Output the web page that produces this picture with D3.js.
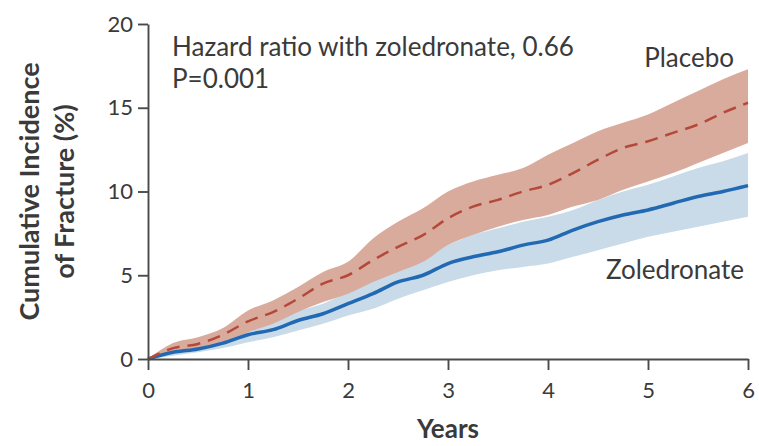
<!DOCTYPE html>
<html lang="en">
  <head>
    <meta charset="utf-8">
    <script src="https://cdn.jsdelivr.net/npm/d3@7"></script>
    <style>
      body { margin: 0; background: #fff; }
      svg text { font-family: Lato, "Open Sans", sans-serif; fill: #3a3a3a; }
    </style>
  </head>
  <body>
  <script>

    // values, every quarter year
    var years = [0, 0.25, 0.5, 0.75, 1, 1.25, 1.5, 1.75, 2, 2.25, 2.5, 2.75, 3,
                 3.25, 3.5, 3.75, 4, 4.25, 4.5, 4.75, 5, 5.25, 5.5, 5.75, 6];

    var placebo      = [0, 0.65, 0.9, 1.45, 2.25, 2.8, 3.6, 4.5, 5.0, 5.9, 6.7, 7.4, 8.4,
                        9.1, 9.5, 10.0, 10.4, 11.1, 11.9, 12.6, 13.0, 13.5, 14.0, 14.7, 15.3];
    var placeboHigh  = [0, 0.95, 1.3, 1.85, 2.9, 3.5, 4.3, 5.2, 5.8, 7.2, 8.2, 9.0, 10.0,
                        10.6, 11.0, 11.4, 12.2, 12.9, 13.6, 14.1, 14.6, 15.3, 16.0, 16.7, 17.3];
    var placeboLow   = [0, 0.35, 0.55, 1.0, 1.6, 2.1, 2.8, 3.4, 3.9, 4.6, 5.2, 5.8, 6.8,
                        7.4, 7.9, 8.3, 8.6, 9.1, 9.5, 10.1, 10.6, 11.1, 11.7, 12.3, 12.9];

    var zoledronate  = [0, 0.4, 0.6, 0.95, 1.45, 1.75, 2.3, 2.7, 3.3, 3.9, 4.6, 5.0, 5.7,
                        6.1, 6.4, 6.8, 7.1, 7.7, 8.2, 8.6, 8.9, 9.3, 9.7, 10.0, 10.35];
    var zoledHigh    = [0, 0.55, 0.8, 1.2, 1.8, 2.2, 2.85, 3.3, 4.0, 4.7, 5.5, 6.1, 6.8,
                        7.4, 7.8, 8.2, 8.5, 8.9, 9.5, 10.0, 10.4, 10.9, 11.4, 11.8, 12.3];
    var zoledLow     = [0, 0.2, 0.4, 0.65, 1.0, 1.3, 1.7, 2.1, 2.6, 3.0, 3.6, 4.1, 4.6,
                        5.0, 5.3, 5.5, 5.7, 6.1, 6.5, 6.9, 7.3, 7.6, 7.9, 8.2, 8.5];

    var xTicks = [0, 1, 2, 3, 4, 5, 6];
    var yTicks = [0, 5, 10, 15, 20];

    var width = 759, height = 446;
    var margin = {top: 24, right: 11, bottom: 87, left: 148};

    var svg = d3.select("body").append("svg")
      .attr("width", width)
      .attr("height", height);

    var x = d3.scaleLinear().domain([0, 6]).range([margin.left, width - margin.right]);
    var y = d3.scaleLinear().domain([0, 20]).range([height - margin.bottom, margin.top]);

    var rows = years.map(function(t, i) {
      return {t: t, p: placebo[i], pHi: placeboHigh[i], pLo: placeboLow[i],
              z: zoledronate[i], zHi: zoledHigh[i], zLo: zoledLow[i]};
    });

    var band = function(lo, hi) {
      return d3.area()
        .curve(d3.curveMonotoneX)
        .x(function(d) { return x(d.t); })
        .y0(function(d) { return y(d[lo]); })
        .y1(function(d) { return y(d[hi]); });
    };
    var line = function(key) {
      return d3.line()
        .curve(d3.curveMonotoneX)
        .x(function(d) { return x(d.t); })
        .y(function(d) { return y(d[key]); });
    };

    // confidence bands
    svg.append("path").datum(rows)
      .attr("d", band("zLo", "zHi"))
      .attr("fill", "#c9dbe8");
    svg.append("path").datum(rows)
      .attr("d", band("pLo", "pHi"))
      .attr("fill", "#d9ab9c");

    // curves
    svg.append("path").datum(rows)
      .attr("d", line("z"))
      .attr("fill", "none")
      .attr("stroke", "#2269b3")
      .attr("stroke-width", 3.5);
    svg.append("path").datum(rows)
      .attr("d", line("p"))
      .attr("fill", "none")
      .attr("stroke", "#b4493a")
      .attr("stroke-width", 2.5)
      .attr("stroke-dasharray", "13,8");

    // axes
    var xAxis = d3.axisBottom(x).tickValues(xTicks).tickFormat(d3.format("d"))
      .tickSize(11).tickSizeOuter(0).tickPadding(12);
    var yAxis = d3.axisLeft(y).tickValues(yTicks).tickFormat(d3.format("d"))
      .tickSize(10).tickSizeOuter(0).tickPadding(5);

    var gx = svg.append("g")
      .attr("transform", "translate(0," + y(0) + ")")
      .call(xAxis);
    var gy = svg.append("g")
      .attr("transform", "translate(" + x(0) + ",0)")
      .call(yAxis);

    [gx, gy].forEach(function(g) {
      g.selectAll("path, line").attr("stroke", "#4a4a4a").attr("stroke-width", 1.9);
      g.selectAll("text").attr("font-size", 22).attr("fill", "#3a3a3a")
        .style("font-family", "Lato, sans-serif");
    });

    // axis titles
    svg.append("text")
      .attr("transform", "translate(39," + y(10) + ") rotate(-90)")
      .attr("text-anchor", "middle")
      .attr("font-size", 27).attr("font-weight", "bold")
      .text("Cumulative Incidence");
    svg.append("text")
      .attr("transform", "translate(74," + y(10) + ") rotate(-90)")
      .attr("text-anchor", "middle")
      .attr("font-size", 27).attr("font-weight", "bold")
      .text("of Fracture (%)");
    svg.append("text")
      .attr("x", x(3)).attr("y", 438)
      .attr("text-anchor", "middle")
      .attr("font-size", 26).attr("font-weight", "bold")
      .text("Years");

    // annotations
    svg.append("text")
      .attr("x", 172).attr("y", 56)
      .attr("font-size", 26)
      .text("Hazard ratio with zoledronate, 0.66");
    svg.append("text")
      .attr("x", 172).attr("y", 88)
      .attr("font-size", 26)
      .text("P=0.001");
    svg.append("text")
      .attr("x", 734).attr("y", 67)
      .attr("text-anchor", "end")
      .attr("font-size", 26)
      .text("Placebo");
    svg.append("text")
      .attr("x", 744).attr("y", 279)
      .attr("text-anchor", "end")
      .attr("font-size", 26)
      .text("Zoledronate");

  </script>
  </body>
</html>
